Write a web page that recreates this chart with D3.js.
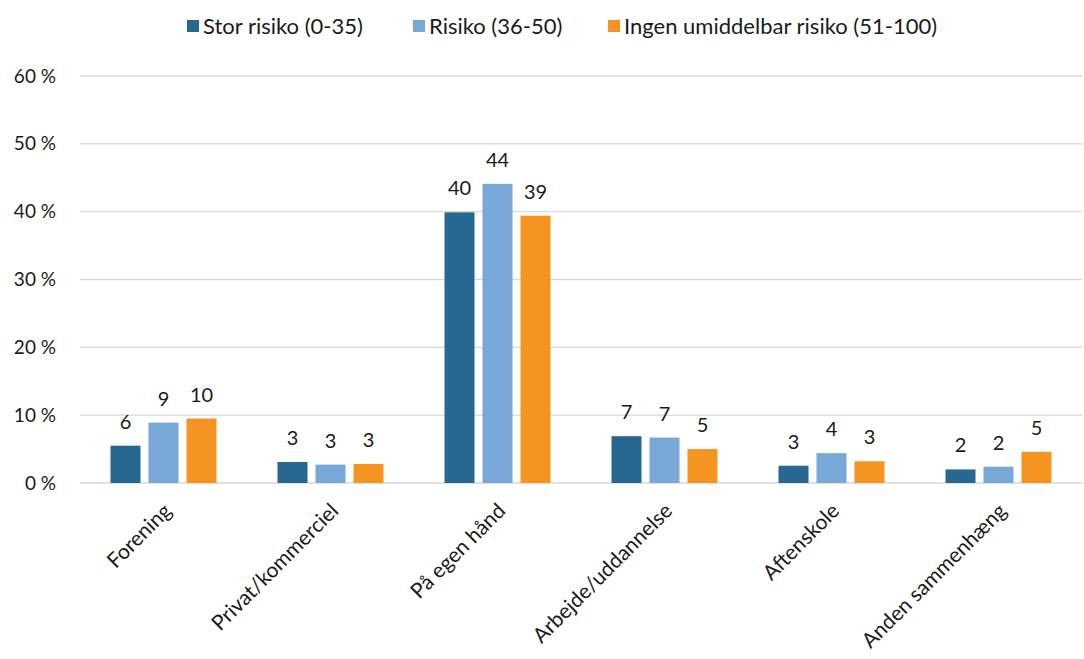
<!DOCTYPE html>
<html>
<head>
<meta charset="utf-8">
<script src="https://cdn.jsdelivr.net/npm/d3@7"></script>
<style>
  html, body { margin: 0; padding: 0; background: #fff; }
  svg { display: block; font-family: Lato, "Open Sans", sans-serif; }
</style>
</head>
<body>
<svg id="chart" width="1084" height="659"></svg>
<script>
// Categories along the x axis
const categories = ["Forening", "Privat/kommerciel", "På egen hånd", "Arbejde/uddannelse", "Aftenskole", "Anden sammenhæng"];
// Series names (legend) and colours
const seriesNames = ["Stor risiko (0-35)", "Risiko (36-50)", "Ingen umiddelbar risiko (51-100)"];
const seriesColors = ["#266892", "#77A8D7", "#F59420"];
// Shares in percent per series, one value per category
const storRisiko = [5.5, 3.1, 39.9, 6.9, 2.55, 2.0];
const risiko = [8.9, 2.7, 44.1, 6.7, 4.4, 2.4];
const ingenRisiko = [9.5, 2.8, 39.4, 5.0, 3.2, 4.6];
// Y-axis ticks
const yTicks = [0, 10, 20, 30, 40, 50, 60];

const seriesValues = [storRisiko, risiko, ingenRisiko];

const svg = d3.select("#chart");
const plot = { left: 80, right: 1082, top: 76, bottom: 483 };
const textColor = "#1a1a1a";

const x = d3.scaleBand().domain(categories).range([plot.left, plot.right]);
const xInner = d3.scaleBand().domain(d3.range(seriesNames.length))
  .range([-57, 57]).paddingInner(0.2105).paddingOuter(0.1053);
const y = d3.scaleLinear().domain([0, 60]).range([plot.bottom, plot.top]);

// Gridlines
svg.append("g")
  .selectAll("line")
  .data(yTicks)
  .join("line")
  .attr("x1", plot.left).attr("x2", plot.right)
  .attr("y1", d => y(d)).attr("y2", d => y(d))
  .attr("stroke", "#d9d9d9").attr("stroke-width", 1.3);

// Y axis labels
const yAxis = d3.axisLeft(y).tickValues(yTicks).tickSize(0).tickPadding(0)
  .tickFormat(d => d + " %");
svg.append("g")
  .attr("transform", `translate(${plot.left - 24},0)`)
  .call(yAxis)
  .call(g => g.select(".domain").remove())
  .call(g => g.selectAll("text")
    .attr("font-family", "Lato, sans-serif")
    .attr("font-size", 19).attr("fill", textColor));

// Bars and value labels
const groups = svg.append("g").selectAll("g")
  .data(categories)
  .join("g")
  .attr("transform", d => `translate(${x(d) + x.bandwidth() / 2},0)`);

groups.each(function (cat, ci) {
  const g = d3.select(this);
  const rows = seriesValues.map((vals, si) => ({ si, v: vals[ci] }));
  g.selectAll("rect")
    .data(rows)
    .join("rect")
    .attr("x", d => xInner(d.si))
    .attr("width", xInner.bandwidth())
    .attr("y", d => y(d.v))
    .attr("height", d => y(0) - y(d.v))
    .attr("fill", d => seriesColors[d.si]);
  g.selectAll("text")
    .data(rows)
    .join("text")
    .attr("x", d => xInner(d.si) + xInner.bandwidth() / 2)
    .attr("y", d => y(d.v) - 17)
    .attr("text-anchor", "middle")
    .attr("font-size", 20)
    .attr("fill", textColor)
    .text(d => d3.format(".0f")(d.v));
});

// Rotated category labels
svg.append("g")
  .selectAll("text")
  .data(categories)
  .join("text")
  .attr("transform", d => `translate(${x(d) + x.bandwidth() / 2 + 4},${plot.bottom + 24}) rotate(-45)`)
  .attr("text-anchor", "end")
  .attr("dy", "0.35em")
  .attr("font-size", 21)
  .attr("fill", textColor)
  .text(d => d);

// Legend
const legendX = [187, 413, 608];
const legend = svg.append("g")
  .selectAll("g")
  .data(seriesNames)
  .join("g")
  .attr("transform", (d, i) => `translate(${legendX[i]},26)`);
legend.append("rect")
  .attr("x", 0).attr("y", -6).attr("width", 12).attr("height", 12)
  .attr("fill", (d, i) => seriesColors[i]);
legend.append("text")
  .attr("x", 16).attr("dy", "0.35em")
  .attr("font-size", 22)
  .attr("fill", textColor)
  .text(d => d);
</script>
</body>
</html>
